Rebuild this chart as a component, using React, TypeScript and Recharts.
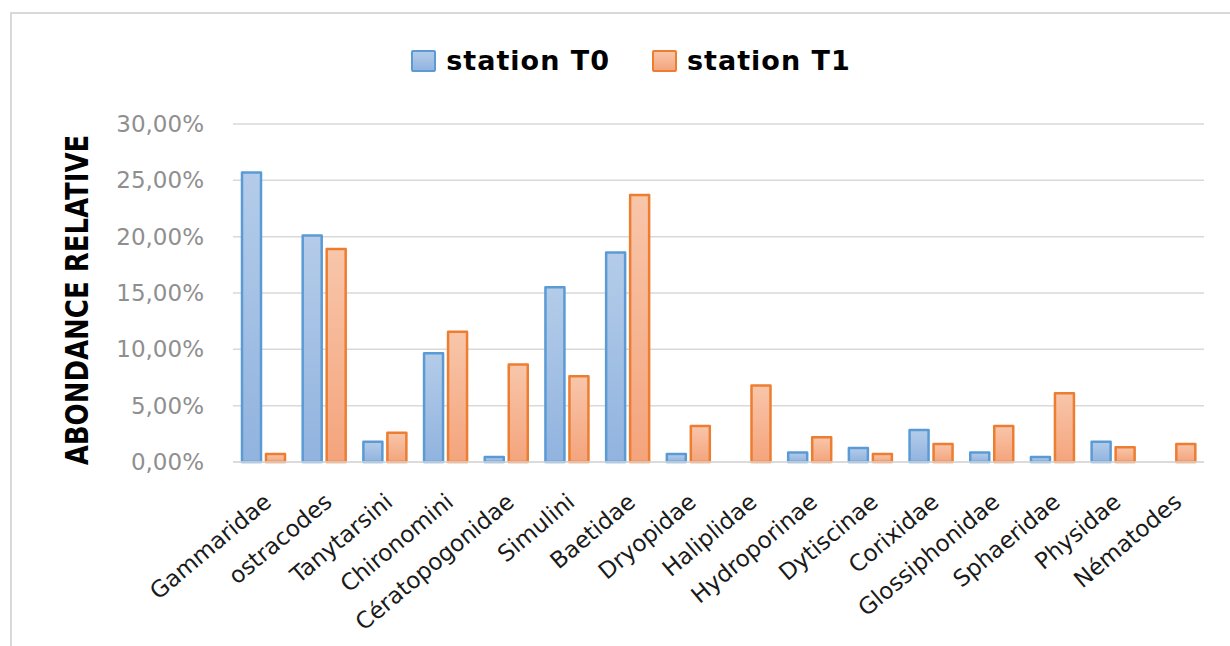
import React from "react";
import { BarChart, Bar, XAxis, YAxis, CartesianGrid, Legend } from "recharts";

const categories = [
  "Gammaridae",
  "ostracodes",
  "Tanytarsini",
  "Chironomini",
  "Cératopogonidae",
  "Simulini",
  "Baetidae",
  "Dryopidae",
  "Haliplidae",
  "Hydroporinae",
  "Dytiscinae",
  "Corixidae",
  "Glossiphonidae",
  "Sphaeridae",
  "Physidae",
  "Nématodes",
];
const stationT0 = [25.7, 20.1, 1.8, 9.65, 0.45, 15.5, 18.6, 0.7, 0, 0.85, 1.25, 2.85, 0.85, 0.45, 1.8, 0];
const stationT1 = [0.7, 18.9, 2.6, 11.55, 8.65, 7.6, 23.7, 3.2, 6.8, 2.2, 0.7, 1.6, 3.2, 6.1, 1.3, 1.6];
const yTicks = [0, 5, 10, 15, 20, 25, 30];
const seriesNames = ["station T0", "station T1"];

const data = categories.map((name, i) => ({ name, t0: stationT0[i], t1: stationT1[i] }));

const FONT = "'DejaVu Sans', sans-serif";

const fmtPct = (v: number) => `${v.toFixed(2).replace(".", ",")}%`;

function XTick({ x, y, payload }: any) {
  const ax = x + 5;
  const ay = y + 37;
  return (
    <text
      x={ax}
      y={ay}
      dy="0.3em"
      textAnchor="end"
      transform={`rotate(-40, ${ax}, ${ay})`}
      fontFamily={FONT}
      fontSize={23}
      fill="#1a1a1a"
    >
      {payload.value}
    </text>
  );
}

function LegendBox({ fill, stroke }: { fill: string; stroke: string }) {
  return (
    <span
      style={{
        display: "inline-block",
        width: 21,
        height: 18,
        background: fill,
        border: `2.5px solid ${stroke}`,
        borderRadius: 2,
        marginRight: 10,
      }}
    />
  );
}

function LegendContent() {
  const items = [
    { name: seriesNames[0], fill: "linear-gradient(#b3cbe9, #92b4df)", stroke: "#5b9bd5" },
    { name: seriesNames[1], fill: "linear-gradient(#f8c5a8, #f4a57e)", stroke: "#ed7d31" },
  ];
  return (
    <div style={{ display: "flex", justifyContent: "center", alignItems: "center", gap: 42 }}>
      {items.map((it) => (
        <div key={it.name} style={{ display: "flex", alignItems: "center" }}>
          <LegendBox fill={it.fill} stroke={it.stroke} />
          <span
            style={{
              fontFamily: FONT,
              fontWeight: "bold",
              fontSize: 27,
              letterSpacing: 1,
              color: "#000",
              lineHeight: "30px",
            }}
          >
            {it.name}
          </span>
        </div>
      ))}
    </div>
  );
}

export default function App() {
  return (
    <div
      style={{
        position: "absolute",
        left: 0,
        top: 0,
        width: 1230,
        height: 646,
        background: "#fff",
        overflow: "hidden",
      }}
    >
      <div
        style={{
          position: "absolute",
          left: 10,
          top: 12,
          width: 1260,
          height: 680,
          border: "2px solid #d9d9d9",
        }}
      />
      <BarChart
        width={1230}
        height={646}
        data={data}
        margin={{ top: 124, right: 26, bottom: 0, left: 10 }}
        barSize={19}
        barGap={5}
      >
        <defs>
          <linearGradient id="gradBlue" x1="0" y1="0" x2="0" y2="1">
            <stop offset="0%" stopColor="#b4cce9" />
            <stop offset="100%" stopColor="#91b3df" />
          </linearGradient>
          <linearGradient id="gradOrange" x1="0" y1="0" x2="0" y2="1">
            <stop offset="0%" stopColor="#f8c6aa" />
            <stop offset="100%" stopColor="#f4a47c" />
          </linearGradient>
        </defs>
        <CartesianGrid vertical={false} stroke="#d9d9d9" strokeWidth={1.5} />
        <XAxis
          dataKey="name"
          interval={0}
          height={184}
          tickLine={false}
          tickSize={0}
          tickMargin={0}
          axisLine={{ stroke: "#d9d9d9", strokeWidth: 1.5 }}
          tick={<XTick />}
        />
        <YAxis
          width={223}
          domain={[0, 30]}
          ticks={yTicks}
          tickFormatter={fmtPct}
          axisLine={false}
          tickLine={false}
          tickSize={0}
          tickMargin={29}
          tick={{ fill: "#8f8f8f", fontSize: 23, fontFamily: FONT }}
          label={{
            content: () => (
              <text
                x={0}
                y={0}
                transform="translate(77, 300) scale(1.2, 1) rotate(-90)"
                textAnchor="middle"
                dominantBaseline="central"
                fontFamily={FONT}
                fontWeight="bold"
                fontSize={26}
                fill="#000"
              >
                ABONDANCE RELATIVE
              </text>
            ),
          }}
        />
        <Legend
          layout="horizontal"
          verticalAlign="middle"
          align="center"
          wrapperStyle={{ top: 46, left: 0, width: 1262 }}
          content={<LegendContent />}
        />
        <Bar
          dataKey="t0"
          name={seriesNames[0]}
          fill="url(#gradBlue)"
          stroke="#5b9bd5"
          strokeWidth={2.5}
          strokeLinejoin="round"
          isAnimationActive={false}
        />
        <Bar
          dataKey="t1"
          name={seriesNames[1]}
          fill="url(#gradOrange)"
          stroke="#ed7d31"
          strokeWidth={2.5}
          strokeLinejoin="round"
          isAnimationActive={false}
        />
      </BarChart>
    </div>
  );
}
